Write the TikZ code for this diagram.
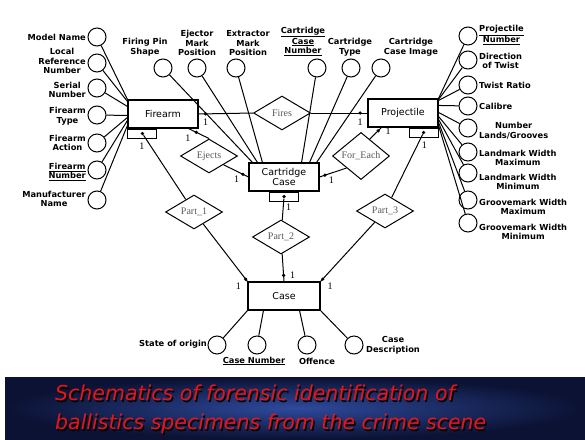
\documentclass[tikz,border=0pt]{standalone}
\usepackage{fontspec}
\setmainfont{DejaVu Sans}
\newfontfamily\relfont{Liberation Serif}
\usetikzlibrary{shapes.geometric,positioning,calc}
\definecolor{bannerdark}{HTML}{0B1233}
\definecolor{bannerlight}{HTML}{2E4A9C}
\definecolor{bannerred}{HTML}{E8141C}

\begin{document}
\begin{tikzpicture}[x=1pt,y=-1pt]
    \tikzset{Entity/.style={draw, line width=1.1pt, minimum width=70pt, minimum height=28pt,
        inner sep=1pt, align=center, font=\fontsize{9.5}{10.5}\selectfont},
      Attr/.style={draw, circle, line width=1pt, minimum size=18pt, inner sep=0pt},
      AttrLabel/.style={align=center, inner sep=0pt, font=\fontsize{8.3}{9.6}\selectfont\bfseries},
      Rel/.style={draw, diamond, line width=1pt, minimum width=57pt, minimum height=34pt,
        inner sep=0pt, text=black!65, font=\relfont\fontsize{10}{11}\selectfont},
      WeakBox/.style={draw, line width=1pt, minimum width=29pt, minimum height=9pt, inner sep=0pt},
      Dot/.style={circle, fill, inner sep=0pt, minimum size=3.6pt},
      One/.style={inner sep=0pt, font=\relfont\fontsize{10}{11}\selectfont},
      Link/.style={line width=1pt},
      BannerText/.style={align=left, inner sep=0pt, font=\fontsize{20.5}{29}\selectfont\itshape}}
    \useasboundingbox (0,0) rectangle (585,439);
    \fill[white] (0,0) rectangle (585,439);

    % entities
    \node[Entity] (fa) at (163,114) {Firearm};
    \node[Entity] (pj) at (403,113) {Projectile};
    \node[Entity] (cc) at (284,177) {Cartridge\\Case};
    \node[Entity, minimum width=72pt] (ca) at (284,296) {Case};
    \node[WeakBox, anchor=north west] (fawk) at (fa.south west) {};
    \node[WeakBox, anchor=north east] (pjwk) at (pj.south east) {};
    \node[WeakBox, anchor=north] (ccwk) at (cc.south) {};
    \node[Dot] (fawkdot) at (fawk) {};
    \node[Dot] (pjwkdot) at (pjwk) {};
    \node[Dot] (ccwkdot) at (ccwk) {};

    % relationships
    \node[Rel] (fires) at (282,113) {Fires};
    \node[Rel] (ejects) at (209,156) {Ejects};
    \node[Rel] (foreach) at (361,156) {For\_Each};
    \node[Rel] (part1) at (194,212) {Part\_1};
    \node[Rel] (part2) at (281,237) {Part\_2};
    \node[Rel] (part3) at (385,211) {Part\_3};

    % firearm attributes
    \foreach \n/\y/\ly/\d/\t in {mn/37/37/0/{Model Name}, lr/63/61/2/{Local\\Reference\\Number},
        sn/88/90/7/{Serial\\Number}, ft/115/116/16/{Firearm\\Type}, fac/143/143/18/{Firearm\\Action},
        fn/170/172/21/{\underline{Firearm}\\\underline{Number}}, mf/200/199/26/{Manufacturer\\Name}}{
      \node[Attr] (\n) at (97,\y) {};
      \node[AttrLabel, anchor=east] (\n-t) at (86,\ly) {\t};
      \draw[Link] (\n) -- ($(fa.north west)+(0,\d)$);
    }

    % cartridge case attributes
    \foreach \n/\x/\lx/\d/\t in {fp/163/145/4/{Firing Pin\\Shape}, em/197/197/9/{Ejector\\Mark\\Position},
        xm/236/248/14/{Extractor\\Mark\\Position}}{
      \node[Attr] (\n) at (\x,68) {};
      \node[AttrLabel, anchor=south] (\n-t) at (\lx,56) {\t};
      \draw[Link] (\n) -- ($(cc.north west)+(\d,0)$);
    }
    \foreach \n/\x/\lx/\d/\t in {cn/317/303/18/{\underline{Cartridge}\\\underline{Case}\\\underline{Number}},
        ct/351/350/10/{Cartridge\\Type}, ci/381/411/3/{Cartridge\\Case Image}}{
      \node[Attr] (\n) at (\x,68) {};
      \node[AttrLabel, anchor=south] (\n-t) at (\lx,56) {\t};
      \draw[Link] (\n) -- ($(cc.north east)+(-\d,0)$);
    }

    % projectile attributes
    \foreach \n/\y/\ly/\d/\t in {pn/36/35/0/{\underline{Projectile}\\\underline{Number}},
        dt/60/61/1/{Direction\\of Twist}, tr/85/85/2/{Twist Ratio}, cb/106/106/7/{Calibre},
        nl/128/131/14/{Number\\Lands/Grooves}, lx/152/158/18/{Landmark Width\\Maximum},
        ln/173/182/21/{Landmark Width\\Minimum}, gx/200/207/24/{Groovemark Width\\Maximum},
        gn/223/232/27/{Groovemark Width\\Minimum}}{
      \node[Attr] (\n) at (468,\y) {};
      \node[AttrLabel, anchor=west] (\n-t) at (479,\ly) {\t};
      \draw[Link] (\n) -- ($(pj.north east)+(0,\d)$);
    }

    % case attributes
    \node[Attr] (so) at (217,345) {};
    \node[Attr] (cnum) at (257,345) {};
    \node[Attr] (of) at (307,345) {};
    \node[Attr] (cd) at (354,345) {};
    \node[AttrLabel, anchor=east] (so-t) at (207,344) {State of origin};
    \node[AttrLabel] (cnum-t) at (254,361) {\underline{Case Number}};
    \node[AttrLabel] (of-t) at (317,361) {Offence};
    \node[AttrLabel, anchor=west] (cd-t) at (366,345) {Case\\Description};
    \draw[Link] (so) -- (ca.south west);
    \draw[Link] (cnum) -- ($(ca.south west)+(16,0)$);
    \draw[Link] (of) -- ($(ca.south east)+(-21,0)$);
    \draw[Link] (cd) -- (ca.south east);

    % relationship links
    \draw[Link] (fa.east) -- node[Dot, pos=0.13] (firesdota) {} (fires.west);
    \draw[Link] (fires.east) -- node[Dot, pos=0.87] (firesdotb) {} (pj.west);
    \draw[Link] ($(fa.south east)+(-10,0)$) -- node[Dot, pos=0.38] (ejdota) {} (ejects.north);
    \draw[Link] ($(ejects.east)!0.5!(ejects.south)$) -- node[Dot, pos=0.78] (ejdotb) {} (cc.west);
    \draw[Link] ($(foreach.west)!0.5!(foreach.south)$) -- node[Dot, pos=0.8] (fedota) {} (cc.east);
    \draw[Link] ($(foreach.north)!0.3!(foreach.east)$) -- node[Dot, pos=0.72] (fedotb) {} ($(pj.south west)+(14,0)$);
    \draw[Link] (fawkdot) -- (part1) -- node[Dot, pos=0.96] (p1dot) {} (ca.north west);
    \draw[Link] (ccwkdot) -- (part2) -- node[Dot, pos=0.78] (p2dot) {} (ca.north);
    \draw[Link] (pjwkdot) -- (part3) -- node[Dot, pos=0.96] (p3dot) {} (ca.north east);

    % cardinalities
    \node[One, below=3pt of firesdota] (one1) {1};
    \node[One, below=3pt of firesdotb] (one2) {1};
    \node[One, below left=1pt and 4pt of ejdota] (one3) {1};
    \node[One, below left=0pt and 2pt of ejdotb] (one4) {1};
    \node[One, below right=0pt and 2pt of fedota] (one5) {1};
    \node[One, right=5pt of fedotb] (one6) {1};
    \node[One, below left=4pt and -2pt of fawk.south] (one7) {1};
    \node[One, below right=2pt and 2pt of ccwk.south] (one8) {1};
    \node[One, below right=4pt and -2pt of pjwk.south] (one9) {1};
    \node[One, below left=2pt and 3pt of p1dot] (one10) {1};
    \node[One, right=4pt of p2dot] (one11) {1};
    \node[One, below right=2pt and 3pt of p3dot] (one12) {1};

    % banner
    \shade[inner color=bannerlight, outer color=bannerdark] (5,377) rectangle (585,439);
    \node[BannerText, anchor=north west, text=black] (banshadow) at (56.5,386.5)
      {Schematics of forensic identification of\\ballistics specimens from the crime scene};
    \node[BannerText, anchor=north west, text=bannerred] (bantext) at (55,385)
      {Schematics of forensic identification of\\ballistics specimens from the crime scene};
\end{tikzpicture}
\end{document}
